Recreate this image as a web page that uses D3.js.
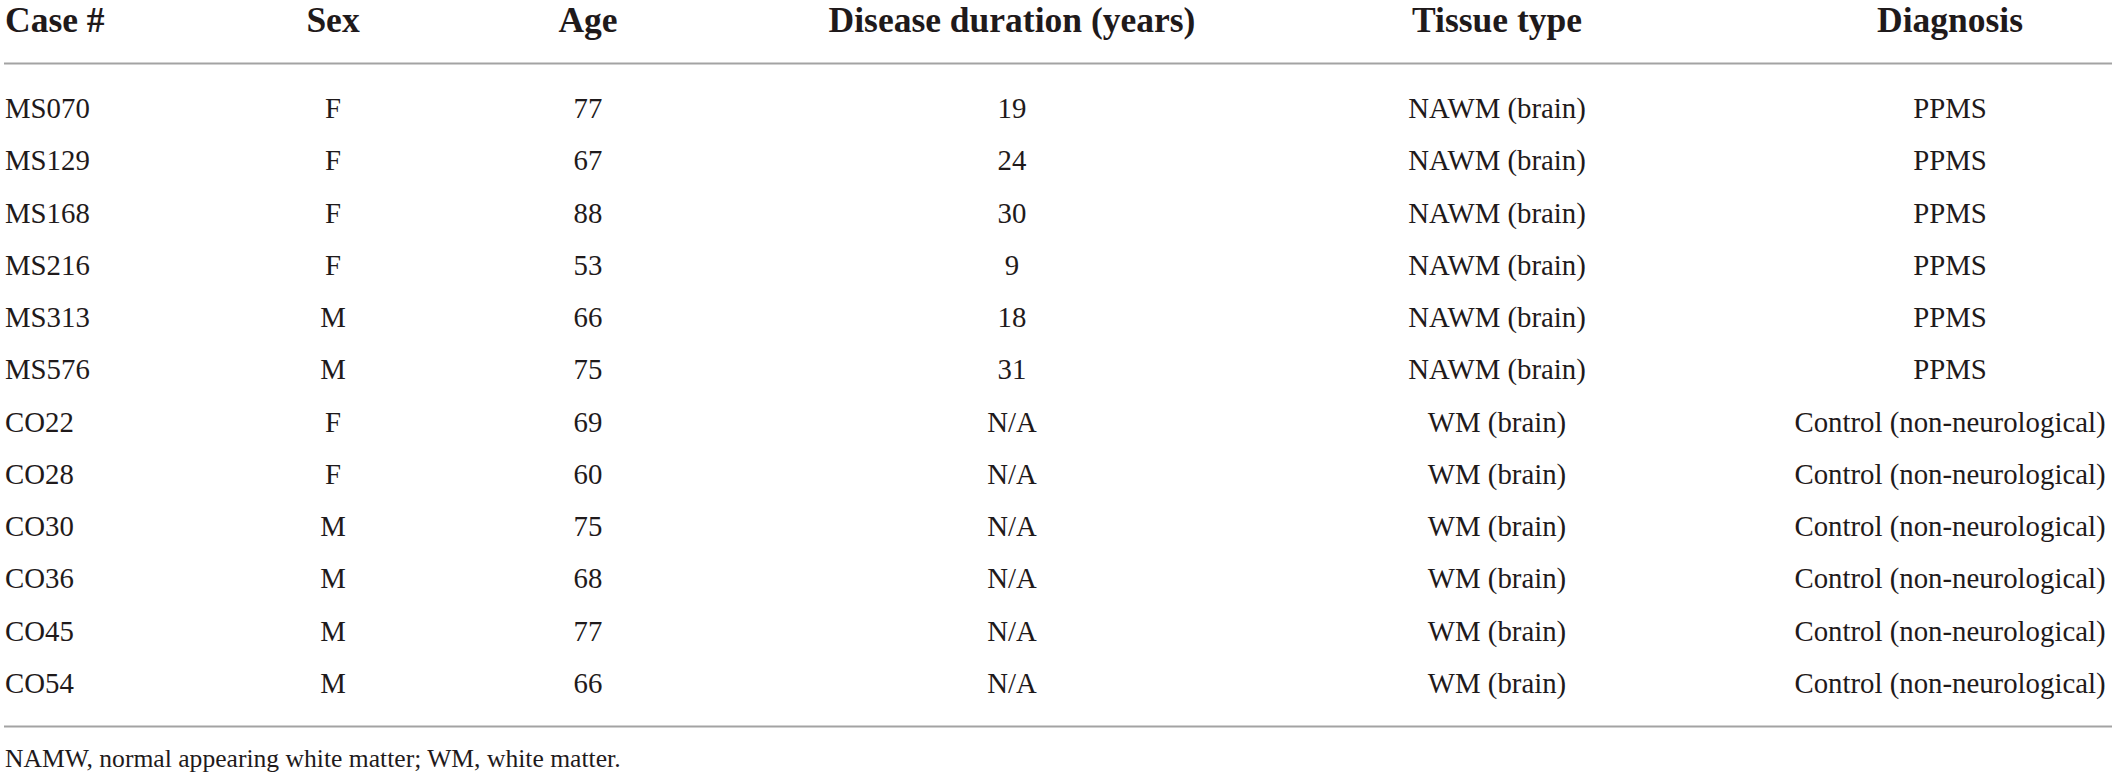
<!DOCTYPE html>
<html>
<head>
<meta charset="utf-8">
<script src="https://cdn.jsdelivr.net/npm/d3@7"></script>
<style>
  html, body { margin: 0; padding: 0; background: #fff; }
  svg { display: block; }
</style>
</head>
<body>
<div id="table"></div>
<script>
// table contents
const headers = ["Case #", "Sex", "Age", "Disease duration (years)", "Tissue type", "Diagnosis"];
const caseIds = ["MS070", "MS129", "MS168", "MS216", "MS313", "MS576", "CO22", "CO28", "CO30", "CO36", "CO45", "CO54"];
const sexes = ["F", "F", "F", "F", "M", "M", "F", "F", "M", "M", "M", "M"];
const ages = [77, 67, 88, 53, 66, 75, 69, 60, 75, 68, 77, 66];
const durations = ["19", "24", "30", "9", "18", "31", "N/A", "N/A", "N/A", "N/A", "N/A", "N/A"];
const tissues = ["NAWM (brain)", "NAWM (brain)", "NAWM (brain)", "NAWM (brain)", "NAWM (brain)", "NAWM (brain)",
  "WM (brain)", "WM (brain)", "WM (brain)", "WM (brain)", "WM (brain)", "WM (brain)"];
const diagnoses = ["PPMS", "PPMS", "PPMS", "PPMS", "PPMS", "PPMS",
  "Control (non-neurological)", "Control (non-neurological)", "Control (non-neurological)",
  "Control (non-neurological)", "Control (non-neurological)", "Control (non-neurological)"];
const footnote = "NAMW, normal appearing white matter; WM, white matter.";

const width = 2117;
const height = 779;
const textColor = "#1f1a1b";
const ruleColor = "#a3a3a3";
const font = "'Liberation Serif', 'Times New Roman', serif";

const svg = d3.select("#table")
  .append("svg")
  .attr("width", width)
  .attr("height", height);

// columns: first one left aligned, the rest centred
const xCol = d3.scaleOrdinal()
  .domain(headers)
  .range([5, 333, 588, 1012, 1497, 1950]);
const anchor = h => h === headers[0] ? "start" : "middle";

// rows (baseline)
const yRow = d3.scaleLinear()
  .domain([0, caseIds.length - 1])
  .range([118, 693]);

const rows = caseIds.map((c, i) => [c, sexes[i], ages[i], durations[i], tissues[i], diagnoses[i]]);

// header
svg.append("g")
  .selectAll("text")
  .data(headers)
  .join("text")
  .attr("x", d => xCol(d))
  .attr("y", 32)
  .attr("text-anchor", d => anchor(d))
  .attr("font-family", font)
  .attr("font-weight", "bold")
  .attr("font-size", "35.5px")
  .attr("fill", textColor)
  .text(d => d);

// rules
svg.append("g")
  .selectAll("line")
  .data([63.5, 726.5])
  .join("line")
  .attr("x1", 4)
  .attr("x2", 2112)
  .attr("y1", d => d)
  .attr("y2", d => d)
  .attr("stroke", ruleColor)
  .attr("stroke-width", 2);

// body
const rowG = svg.append("g")
  .selectAll("g")
  .data(rows)
  .join("g")
  .attr("transform", (d, i) => `translate(0, ${yRow(i)})`);

rowG.selectAll("text")
  .data(d => d.map((v, j) => ({ col: headers[j], v: v })))
  .join("text")
  .attr("x", d => xCol(d.col))
  .attr("text-anchor", d => anchor(d.col))
  .attr("font-family", font)
  .attr("font-size", "28.8px")
  .attr("fill", textColor)
  .text(d => d.v);

// nota de rodape
svg.append("text")
  .attr("x", 5)
  .attr("y", 767)
  .attr("font-family", font)
  .attr("font-size", "25.6px")
  .attr("fill", textColor)
  .text(footnote);
</script>
</body>
</html>
